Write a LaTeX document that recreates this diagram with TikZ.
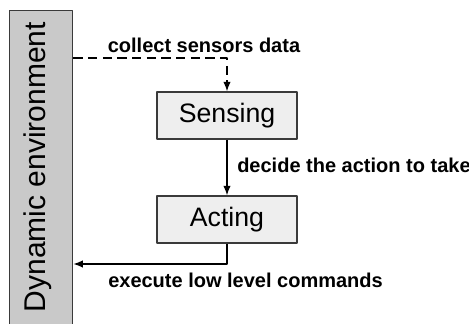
\documentclass[tikz,border=0pt]{standalone}
\usepackage{fontspec}
\setmainfont{Liberation Sans}
\usetikzlibrary{arrows.meta}
\definecolor{envgray}{HTML}{C9C9C9}
\definecolor{boxgray}{HTML}{EEEEEE}
\definecolor{edgegray}{HTML}{3A3A3A}
\tikzset{
	stagebox/.style={draw=edgegray, fill=boxgray, line width=1.1pt, minimum width=140*0.75pt,
		minimum height=47*0.75pt, inner sep=0pt, font=\fontsize{20}{24}\selectfont},
	envbar/.style={draw=edgegray, fill=envgray, line width=1.1pt, inner sep=0pt},
	edgelabel/.style={font=\bfseries\fontsize{15}{18}\selectfont, inner sep=0pt},
	flow/.style={->, line width=0.9pt}
}
\begin{document}
\begin{tikzpicture}[x=0.75pt, y=-0.75pt, line join=round, >={Latex[length=7pt,width=5.5pt]}]
	\useasboundingbox (0,0) rectangle (469,324);
	% environment bar
	\node[envbar, minimum width=63*0.75pt, minimum height=330*0.75pt, anchor=north west] (env) at (9,10) {};
	\node[rotate=90, font=\fontsize{22.5}{27}\selectfont, inner sep=0pt] (envtext) at (38,167) {Dynamic environment};
	% the two stages
	\node[stagebox] (sens) at (227,115.5) {Sensing};
	\node[stagebox] (act) at (227,219.5) {Acting};
	% connectors
	\draw[flow, dashed, dash pattern=on 7pt off 4pt] (env.east |- 0,58) -| (sens.north);
	\draw[flow] (sens) -- (act);
	\coordinate (turn) at (227,264);
	\draw[flow] (act.south) -- (turn) -- (env.east |- turn);
	% labels
	\node[edgelabel] (lcollect) at (204,45) {collect sensors data};
	\node[edgelabel, anchor=west] (ldecide) at (237,165) {decide the action to take};
	\node[edgelabel, anchor=west] (lexec) at (108,280) {execute low level commands};
\end{tikzpicture}
\end{document}
